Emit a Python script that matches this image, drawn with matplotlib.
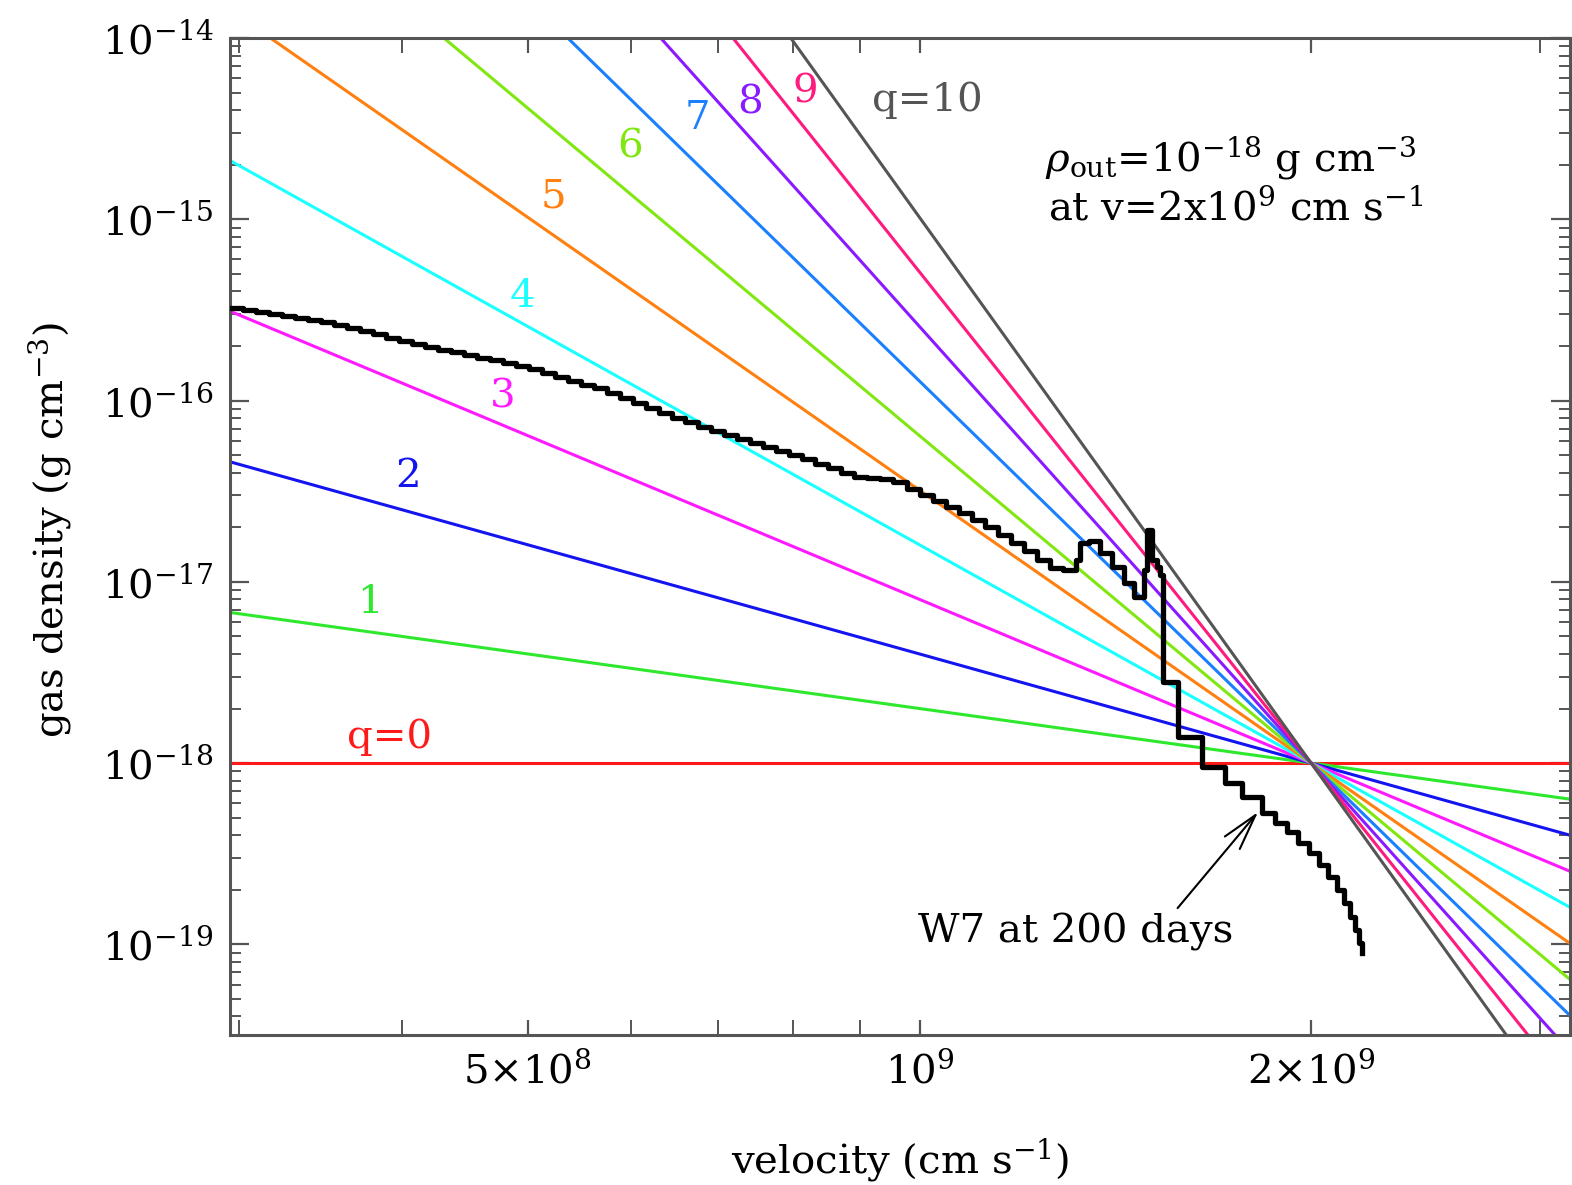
import numpy as np
import matplotlib
matplotlib.use("Agg")
import matplotlib.pyplot as plt
from matplotlib.ticker import (FixedLocator, FixedFormatter, LogLocator,
                               LogFormatterMathtext, NullFormatter)

plt.rcParams['font.family'] = 'serif'
plt.rcParams['font.serif'] = ['DejaVu Serif']
plt.rcParams['mathtext.fontset'] = 'dejavuserif'
plt.rcParams['axes.formatter.use_mathtext'] = True

# power law profiles  rho = rho_out * (v / v_out)^-q
q_values = [0, 1, 2, 3, 4, 5, 6, 7, 8, 9, 10]
q_colors = ['#ff1a1a', '#2ee82e', '#1414f0', '#ff1aff', '#1affff', '#ff8010',
            '#80e810', '#1a80ff', '#8a1aff', '#ff1a80', '#555555']
q_labels = ['q=0', '1', '2', '3', '4', '5', '6', '7', '8', '9', 'q=10']
rho_out = 1e-18
v_out = 2e9

# W7 model at 200 days (log10 v [cm/s], log10 rho [g/cm3]), cell left edges
w7_logv = [8.47, 8.48, 8.49, 8.50, 8.51, 8.52, 8.53, 8.54, 8.55, 8.56,
           8.57, 8.58, 8.59, 8.60, 8.61, 8.62, 8.63, 8.64, 8.65, 8.66,
           8.67, 8.68, 8.69, 8.70, 8.71, 8.72, 8.73, 8.74, 8.75, 8.76,
           8.77, 8.78, 8.79, 8.80, 8.81, 8.82, 8.83, 8.84, 8.85, 8.86,
           8.87, 8.88, 8.89, 8.90, 8.91, 8.92, 8.93, 8.94, 8.95, 8.96,
           8.97, 8.98, 8.99, 9.00, 9.01, 9.02, 9.03, 9.04, 9.05, 9.06,
           9.07, 9.08, 9.09, 9.10, 9.11,
           9.120, 9.123, 9.130, 9.139, 9.148, 9.157, 9.165,
           9.1725, 9.1748, 9.1787, 9.1825, 9.1848, 9.1871, 9.1987, 9.2171, 9.2348,
           9.2479, 9.2632, 9.2732, 9.2824, 9.2909, 9.2994, 9.3070, 9.3140, 9.3209,
           9.3263, 9.3309, 9.3347, 9.3378, 9.3401]
w7_logrho = [-15.489, -15.500, -15.511, -15.523, -15.534, -15.546, -15.557, -15.568,
             -15.584, -15.601, -15.618, -15.635, -15.653, -15.670, -15.687, -15.704,
             -15.719, -15.734, -15.749, -15.764, -15.779, -15.794, -15.809, -15.826,
             -15.848, -15.869, -15.891, -15.912, -15.933, -15.958, -15.985, -16.013,
             -16.040, -16.067, -16.094, -16.121, -16.148, -16.170, -16.192, -16.213,
             -16.235, -16.257, -16.278, -16.300, -16.322, -16.349, -16.372, -16.400,
             -16.420, -16.430, -16.433, -16.452, -16.488, -16.521, -16.555, -16.588,
             -16.622, -16.658, -16.698, -16.741, -16.787, -16.832, -16.877, -16.923,
             -16.937,
             -16.879, -16.785, -16.774, -16.841, -16.918, -17.006, -17.083,
             -16.934, -16.714, -16.879, -16.918, -16.962, -17.552, -17.856, -18.021,
             -18.109, -18.186, -18.275, -18.330, -18.380, -18.440, -18.495, -18.562,
             -18.628, -18.699, -18.771, -18.848, -18.920, -18.992, -19.047]

x_major = [5e8, 1e9, 2e9]
x_major_labels = [r'$5{\times}10^{8}$', r'$10^{9}$', r'$2{\times}10^{9}$']
x_minor = [3e8, 4e8, 6e8, 7e8, 8e8, 9e8, 3e9]
y_major = [1e-19, 1e-18, 1e-17, 1e-16, 1e-15, 1e-14]

W, H = 1572, 1185
fs = 29
fig = plt.figure(figsize=(W / 100, H / 100), dpi=100)
ax = fig.add_axes([230 / W, 1 - 1035 / H, 1340 / W, 997 / H])

xmin, xmax = 10 ** 8.47, 10 ** 9.5
v = np.array([xmin, xmax])
for q, col in zip(q_values, q_colors):
    ax.plot(v, rho_out * (v / v_out) ** (-q), color=col, lw=2.2, zorder=2)

ax.plot(10 ** np.array(w7_logv), 10 ** np.array(w7_logrho), drawstyle='steps-post',
        color='black', lw=3.8, zorder=3)

ax.set_xscale('log')
ax.set_yscale('log')
ax.set_xlim(xmin, xmax)
ax.set_ylim(10 ** -19.5, 1e-14)

ax.xaxis.set_major_locator(FixedLocator(x_major))
ax.xaxis.set_major_formatter(FixedFormatter(x_major_labels))
ax.xaxis.set_minor_locator(FixedLocator(x_minor))
ax.xaxis.set_minor_formatter(NullFormatter())
ax.yaxis.set_major_locator(FixedLocator(y_major))
ax.yaxis.set_major_formatter(LogFormatterMathtext())
ax.yaxis.set_minor_locator(LogLocator(base=10, subs=np.arange(2, 10)))
ax.yaxis.set_minor_formatter(NullFormatter())

ax.tick_params(which='both', direction='in', top=True, right=True,
               colors='#555555', labelcolor='black', labelsize=fs)
ax.tick_params(axis='y', which='major', length=14, width=1.6, pad=12)
ax.tick_params(axis='y', which='minor', length=8, width=1.4)
ax.tick_params(axis='x', which='major', length=11, width=1.6, pad=12)
ax.tick_params(axis='x', which='minor', length=11, width=1.4)
for sp in ax.spines.values():
    sp.set_color('#555555')
    sp.set_linewidth(2.2)

# line labels
label_pos = [(0.1194, 0.2989), (0.1045, 0.4333), (0.1328, 0.5597), (0.2037, 0.6399),
             (0.2187, 0.7412), (0.2410, 0.8405), (0.2985, 0.8907), (0.3485, 0.9188),
             (0.3881, 0.9348), (0.4291, 0.9458), (0.5201, 0.9378)]
for (fx, fy), lab, col in zip(label_pos, q_labels, q_colors):
    ax.text(fx, fy, lab, color=col, fontsize=fs, ha='center', va='center',
            transform=ax.transAxes)

fig.text(0.6648, 0.8667, r'$\rho_{\rm out}$=10$^{-18}$ g cm$^{-3}$', fontsize=fs,
         ha='left', va='center')
fig.text(0.6667, 0.8245, r'at v=2x10$^{9}$ cm s$^{-1}$', fontsize=fs,
         ha='left', va='center')

ax.annotate('W7 at 200 days', xy=(0.8003, 0.3148), xycoords='figure fraction',
            xytext=(0.5840, 0.2135), textcoords='figure fraction',
            fontsize=fs, ha='left', va='center',
            arrowprops=dict(arrowstyle='->,head_length=1.3,head_width=0.35',
                            mutation_scale=20, lw=1.5, color='black',
                            shrinkA=2, shrinkB=0, relpos=(0.81, 1.0)))

fig.text(900 / W, 1 - 1160 / H, r'velocity (cm s$^{-1}$)', fontsize=fs,
         ha='center', va='center')
fig.text(50 / W, 1 - 530 / H, r'gas density (g cm$^{-3}$)', fontsize=fs,
         ha='center', va='center', rotation=90)

fig.savefig('out.png', dpi=100)
